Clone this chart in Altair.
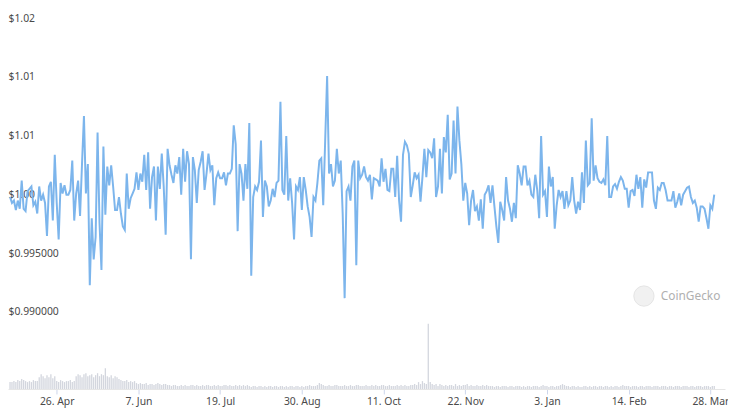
import altair as alt
import pandas as pd

START = "2024-04-02"

prices = [
    1.0002, 0.9997, 0.9999, 0.9991, 0.9999, 0.9992, 1.0016, 0.9992, 0.9990, 1.0007,
    1.0009, 1.0011, 0.9995, 0.9998, 0.9988, 1.0011, 0.9999, 1.0004, 0.9997, 0.9969,
    1.0011, 1.0015, 0.9982, 1.0038, 0.9997, 0.9966, 1.0014, 1.0005, 1.0012, 1.0004,
    1.0004, 1.0008, 1.0033, 0.9982, 1.0005, 1.0016, 0.9986, 1.0030, 1.0071, 1.0005,
    1.0030, 0.9927, 0.9984, 0.9949, 0.9968, 1.0057, 0.9980, 0.9940, 1.0045, 0.9987,
    1.0028, 1.0012, 1.0029, 1.0011, 0.9991, 0.9991, 1.0002, 0.9988, 0.9977, 0.9974,
    1.0022, 0.9992, 1.0001, 1.0005, 1.0009, 1.0023, 1.0008, 1.0022, 1.0015, 1.0038,
    1.0008, 1.0040, 0.9992, 1.0019, 1.0028, 0.9982, 1.0028, 1.0009, 1.0039, 1.0011,
    0.9970, 1.0043, 1.0029, 1.0021, 1.0014, 1.0029, 1.0022, 1.0036, 1.0004,
    1.0043, 1.0015, 1.0041, 1.0030, 0.9949, 1.0036, 1.0025, 0.9997, 1.0025, 1.0032,
    1.0041, 1.0008, 1.0022, 1.0039, 1.0025, 1.0029, 0.9995, 1.0018, 1.0023, 1.0018,
    1.0018, 1.0023, 1.0012, 1.0022, 1.0022, 1.0026, 1.0063, 1.0047, 0.9973, 1.0030,
    1.0022, 0.9999, 1.0030, 1.0009, 1.0065, 0.9935, 1.0002, 1.0011, 1.0008, 1.0015,
    1.0050, 0.9985, 1.0016, 1.0011, 0.9994, 0.9999, 1.0009, 1.0002, 1.0014, 1.0016,
    1.0083, 1.0008, 1.0004, 1.0054, 0.9999, 1.0018, 0.9997, 0.9966, 1.0011, 1.0008,
    1.0019, 0.9991, 1.0019, 1.0008, 0.9994, 0.9985, 0.9968, 1.0002, 0.9999, 1.0014,
    1.0033, 1.0035, 0.9995, 1.0050, 1.0105, 1.0022, 1.0030, 1.0011, 1.0016, 1.0043,
    1.0022, 1.0033, 0.9988, 0.9916, 1.0007, 1.0011, 0.9999, 1.0028, 1.0033, 0.9944,
    1.0033, 1.0018, 1.0021, 1.0028, 1.0019, 1.0016, 1.0021, 1.0000, 1.0018, 1.0017,
    1.0016, 1.0011, 1.0035, 1.0015, 1.0026, 1.0008, 1.0007, 1.0026, 1.0026, 1.0002,
    1.0037, 0.9999, 0.9981, 1.0038, 1.0049, 1.0046, 1.0039, 1.0002, 1.0012, 1.0023,
    1.0018, 1.0021, 0.9998, 1.0019, 1.0043, 1.0019, 1.0042, 1.0040, 1.0035, 1.0052,
    1.0002, 1.0011, 1.0043, 1.0005, 1.0053, 1.0040, 1.0072, 1.0017, 1.0022, 1.0067,
    1.0022, 1.0079, 1.0050, 1.0030, 0.9999, 1.0014, 1.0005, 0.9978, 0.9999, 1.0008,
    0.9990, 0.9994, 0.9982, 1.0000, 0.9975, 1.0004, 1.0007, 1.0012, 0.9997, 1.0012,
    0.9994, 0.9977, 0.9963, 0.9998, 0.9991, 0.9982, 1.0019, 0.9999, 0.9992, 0.9981,
    0.9997, 0.9984, 1.0029, 1.0022, 1.0012, 1.0028, 1.0028, 1.0012, 1.0016, 1.0004,
    1.0002, 1.0021, 1.0008, 0.9984, 1.0054, 1.0004, 1.0007, 0.9985, 1.0028, 1.0011,
    1.0019, 0.9975, 0.9995, 1.0008, 1.0002, 1.0007, 0.9992, 1.0007, 0.9995, 0.9999,
    1.0019, 0.9999, 0.9988, 0.9998, 0.9991, 1.0023, 0.9997, 1.0050, 1.0012, 1.0014,
    1.0069, 1.0016, 1.0029, 1.0018, 1.0015, 1.0014, 1.0017, 1.0012, 1.0054, 1.0002,
    1.0002, 1.0011, 1.0013, 1.0009, 1.0015, 1.0019, 1.0016, 1.0009, 1.0009, 0.9993,
    1.0007, 1.0008, 1.0003, 1.0021, 1.0009, 1.0019, 0.9993, 1.0017, 1.0010, 1.0023,
    1.0023, 1.0023, 0.9999, 0.9992, 1.0010, 1.0008, 1.0014, 1.0014, 1.0008, 0.9999,
    0.9999, 0.9999, 1.0007, 0.9993, 0.9998, 1.0005, 0.9995, 1.0004, 1.0007, 1.0010,
    1.0011, 1.0002, 0.9997, 0.9999, 0.9993, 0.9981, 0.9994, 0.9994, 0.9992, 0.9984,
    0.9975, 0.9995, 0.9992, 1.0004,
]

# daily traded volume (arbitrary units, $M)
volumes = [
    7, 7, 8, 7, 9, 8, 10, 9, 8, 7, 8, 7, 9, 8, 8,
    12, 15, 13, 11, 14, 12, 15, 11, 13,
    8, 7, 9, 8, 7, 8, 8, 9, 7, 8,
    13, 15, 14, 12, 15, 16, 13, 14, 15, 12, 14, 16, 13, 15,
    14, 21, 13, 12, 14, 11, 13, 12,
    10, 9, 8, 8, 9, 7, 8, 7, 8,
    6, 5, 6, 5, 5, 6, 4, 5, 5, 4, 5, 6, 5, 4, 5, 5, 4,
    4, 3, 4, 4, 3, 3, 4, 3, 4, 3, 3, 4, 4, 3, 4, 3, 3, 4, 3, 4, 4, 3, 3, 4, 3,
    4, 3, 3, 4, 4, 3, 4, 3, 3, 4, 3, 4, 3, 4, 3, 4,
    3, 2, 3, 3, 2, 3, 3, 2, 3, 2, 3, 3, 2, 3, 3, 2, 3, 3, 2, 3, 2, 3, 3, 2, 3,
    3, 2, 3, 2, 3, 3, 4, 3, 3, 3,
    4, 6, 5,
    4, 3, 3, 4, 3, 3, 4, 4, 3, 3, 3, 4, 3, 3, 4, 3, 3, 4, 4, 3, 3, 3, 4, 3, 3,
    4, 3, 4, 3, 3, 4, 4, 3, 3, 4, 3, 3, 3, 4, 3, 4, 3, 4, 3, 3, 4, 4,
    5, 4, 7, 5, 8, 6, 5, 66, 7, 5, 4, 5, 3, 5, 4,
    3, 4, 3, 4, 4, 3, 5, 3, 4, 3, 4, 4, 5, 3, 4, 3, 3, 4, 3, 3, 4, 3, 4, 3, 3,
    3, 2, 3, 3, 2, 3, 3, 3, 2, 3, 3, 2, 3, 3, 3, 2, 3, 2, 3, 3,
    2, 3, 3, 3, 2, 3, 4, 3, 3, 2, 3, 3, 2, 3, 3, 4, 5, 4, 3, 3,
    2, 3, 3, 2, 3, 2, 2, 3, 3, 2, 3, 2, 3, 3, 2, 3, 3, 2, 3, 3,
    2, 3, 2, 3, 3, 2, 3, 4, 3, 3, 3, 2, 3, 3, 3, 2, 3, 3, 2, 3,
    3, 3, 2, 3, 3, 3, 2, 3, 3, 3, 2, 3, 3, 2, 3, 3, 3, 2, 3, 3,
    3, 2, 3, 3, 2, 3, 3, 3, 2, 3, 3, 3, 2, 3, 3,
]

y_ticks = [0.99, 0.995, 1.0, 1.005, 1.01, 1.015]
y_labels = ["$0.990000", "$0.995000", "$1.00", "$1.01", "$1.01", "$1.02"]
x_ticks = ["2024-04-26", "2024-06-07", "2024-07-19", "2024-08-30", "2024-10-11",
           "2024-11-22", "2025-01-03", "2025-02-14", "2025-03-28"]
x_domain = [("2024-04-03", 12), ("2025-04-02", 0)]
price_domain = [0.98387, 1.015]
volume_domain = [0, 370]

n = min(len(prices), len(volumes))
dates = pd.date_range(START, periods=n, freq="D")
df = pd.DataFrame({
    "date": dates.strftime("%Y-%m-%dT00:00:00"),
    "price": prices[:n],
    "volume": volumes[:n],
})


def dt(s, h=0):
    y, m, d = (int(p) for p in s.split("-"))
    return alt.DateTime(year=y, month=m, date=d, hours=h)


label_expr = " : ".join(
    f"abs(datum.value - {v}) < 1e-7 ? '{l}'" for v, l in zip(y_ticks, y_labels)
) + " : ''"

W, H = 725, 370
FONT = "Noto Sans"
LABEL_COLOR = "#4a4a4a"

x_enc = alt.X(
    "date:T",
    scale=alt.Scale(domain=[dt(s, h) for s, h in x_domain]),
    axis=alt.Axis(
        values=[dt(s) for s in x_ticks], format="%-d. %b", labelAngle=0, grid=False,
        tickSize=5, tickColor="#ccd6eb", domainColor="#e6e6e6", labelPadding=3,
        labelFlush=12, labelFlushOffset=9, title=None, labelColor=LABEL_COLOR,
        labelFontSize=10.5, labelFont=FONT,
    ),
)

base = alt.Chart(df)

vol = base.mark_bar(color="#d3d6de", size=1.3).encode(
    x=x_enc,
    y=alt.Y("volume:Q", scale=alt.Scale(domain=volume_domain), axis=None),
)

price = base.mark_line(color="#7cb5ec", strokeWidth=2).encode(
    x=x_enc,
    y=alt.Y(
        "price:Q",
        scale=alt.Scale(domain=price_domain, nice=False, zero=False),
        axis=alt.Axis(
            values=y_ticks, labelExpr=label_expr, orient="left", domain=False, ticks=False,
            labelAlign="left", labelBaseline="alphabetic", labelPadding=0, labelOffset=-2,
            gridColor="#eeeeee", title=None, labelColor=LABEL_COLOR, labelFontSize=10.5,
            labelFont=FONT,
        ),
    ),
)

logo = alt.Chart(pd.DataFrame({"k": [0]})).mark_point(
    filled=True, shape="circle", size=420, color="#ececec", stroke="#d9d9d9", strokeWidth=1
).encode(x=alt.value(643), y=alt.value(276))

brand = alt.Chart(pd.DataFrame({"t": ["CoinGecko"]})).mark_text(
    align="left", baseline="middle", fontSize=12, color="#b0b0b0", font=FONT
).encode(x=alt.value(660), y=alt.value(276), text="t:N")

chart = (
    alt.layer(vol, price, logo, brand)
    .resolve_scale(y="independent")
    .properties(
        width=W, height=H,
        autosize=alt.AutoSizeParams(type="none"),
        padding={"left": 0, "top": 13, "right": 3, "bottom": 21},
    )
    .configure_view(stroke=None)
)

chart.save("out.html", embed_options={"renderer": "svg", "actions": False})
